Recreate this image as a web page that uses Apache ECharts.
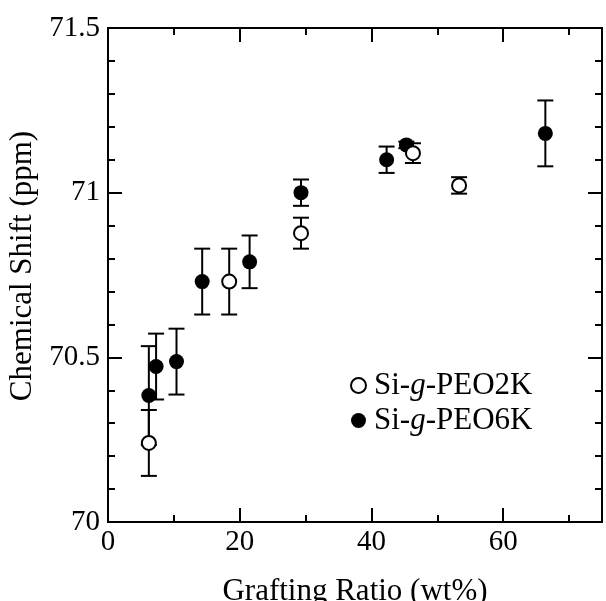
<!DOCTYPE html>
<html>
<head>
<meta charset="utf-8">
<script src="https://cdn.jsdelivr.net/npm/echarts@6/dist/echarts.min.js"></script>
<style>
html,body{margin:0;padding:0;background:#fff;}
#chart{width:606px;height:601px;}
</style>
</head>
<body>
<div id="chart"></div>
<script>
// Data
const grafting2K = [6.2, 18.4, 29.3, 46.3, 53.3];
const shift2K    = [70.24, 70.73, 70.877, 71.12, 71.022];
const err2K      = [0.1, 0.1, 0.047, 0.03, 0.025];

const grafting6K = [6.2, 7.3, 10.4, 14.3, 21.5, 29.3, 42.3, 45.3, 66.4];
const shift6K    = [70.384, 70.472, 70.487, 70.73, 70.79, 71.0, 71.1, 71.145, 71.18];
const err6K      = [0.15, 0.1, 0.1, 0.1, 0.08, 0.04, 0.04, 0.01, 0.1];

const xTickLabels = [0, 20, 40, 60];
const seriesNames = ['Si-g-PEO2K', 'Si-g-PEO6K'];

const FONT = 'Liberation Serif';

const pts2K = grafting2K.map((x, i) => [x, shift2K[i]]);
const pts6K = grafting6K.map((x, i) => [x, shift6K[i]]);
const bars2K = grafting2K.map((x, i) => [x, shift2K[i] - err2K[i], shift2K[i] + err2K[i]]);
const bars6K = grafting6K.map((x, i) => [x, shift6K[i] - err6K[i], shift6K[i] + err6K[i]]);

function errRender(params, api) {
  const x = api.value(0);
  const lo = api.coord([x, api.value(1)]);
  const hi = api.coord([x, api.value(2)]);
  const hw = 8;
  const st = { stroke: '#000', lineWidth: 2 };
  return {
    type: 'group',
    children: [
      { type: 'line', shape: { x1: lo[0], y1: lo[1], x2: hi[0], y2: hi[1] }, style: st },
      { type: 'line', shape: { x1: lo[0] - hw, y1: lo[1], x2: lo[0] + hw, y2: lo[1] }, style: st },
      { type: 'line', shape: { x1: hi[0] - hw, y1: hi[1], x2: hi[0] + hw, y2: hi[1] }, style: st }
    ]
  };
}

const axisLineStyle = { show: true, onZero: false, lineStyle: { color: '#000', width: 2 } };
function xAx(pos, interval, len, labels) {
  return {
    type: 'value', position: pos, min: 0, max: 75, interval: interval,
    axisLine: axisLineStyle,
    axisTick: { show: true, inside: true, length: len, lineStyle: { color: '#000', width: 2 } },
    axisLabel: labels ? {
      show: true, color: '#000', fontFamily: FONT, fontSize: 29, margin: 6,
      formatter: v => (xTickLabels.indexOf(v) >= 0 ? String(v) : '')
    } : { show: false },
    splitLine: { show: false },
    name: labels ? 'Grafting Ratio (wt%)' : '',
    nameLocation: 'middle', nameGap: 54,
    nameTextStyle: { color: '#000', fontFamily: FONT, fontSize: 31 }
  };
}
function yAx(pos, labels) {
  return {
    type: 'value', position: pos, min: 70, max: 71.5, interval: 0.5,
    axisLine: axisLineStyle,
    axisTick: { show: true, inside: true, length: 14, lineStyle: { color: '#000', width: 2 } },
    minorTick: { show: true, splitNumber: 5, length: 7, lineStyle: { color: '#000', width: 2 } },
    axisLabel: labels ? { show: true, color: '#000', fontFamily: FONT, fontSize: 29, margin: 8 } : { show: false },
    splitLine: { show: false },
    minorSplitLine: { show: false },
    name: labels ? 'Chemical Shift (ppm)' : '',
    nameLocation: 'middle', nameGap: 60, nameRotate: 90,
    nameTextStyle: { color: '#000', fontFamily: FONT, fontSize: 31, padding: [0, 0, 0, 18] }
  };
}

const chart = echarts.init(document.getElementById('chart'), null, { renderer: 'canvas' });
chart.setOption({
  animation: false,
  backgroundColor: '#fff',
  grid: { left: 108, top: 28, width: 494, height: 494, containLabel: false, outerBoundsMode: 'none' },
  xAxis: [
    xAx('bottom', 20, 14, true),
    xAx('bottom', 10, 7, false),
    xAx('top', 20, 14, false),
    xAx('top', 10, 7, false)
  ],
  yAxis: [yAx('left', true), yAx('right', false)],
  legend: {
    orient: 'vertical', left: 350, top: 368, padding: 0,
    itemWidth: 15, itemHeight: 15, itemGap: 0,
    icon: 'circle',
    data: seriesNames,
    textStyle: {
      color: '#000', fontFamily: FONT, fontSize: 31, lineHeight: 35, padding: [0, 0, 0, 3],
      rich: { i: { fontFamily: FONT, fontSize: 31, lineHeight: 35, fontStyle: 'italic', color: '#000' } }
    },
    formatter: n => n.replace('-g-', '-{i|g}-')
  },
  series: [
    { type: 'custom', name: 'err6K', xAxisIndex: 0, yAxisIndex: 0, data: bars6K, renderItem: errRender, z: 1, silent: true },
    { type: 'custom', name: 'err2K', xAxisIndex: 0, yAxisIndex: 0, data: bars2K, renderItem: errRender, z: 1, silent: true },
    { type: 'scatter', name: seriesNames[1], xAxisIndex: 0, yAxisIndex: 0, data: pts6K, symbol: 'circle', symbolSize: 15,
      itemStyle: { color: '#000', opacity: 1 }, z: 3 },
    { type: 'scatter', name: seriesNames[0], xAxisIndex: 0, yAxisIndex: 0, data: pts2K, symbol: 'circle', symbolSize: 14,
      itemStyle: { color: '#fff', borderColor: '#000', borderWidth: 2, opacity: 1 }, z: 4 }
  ]
});
</script>
</body>
</html>
